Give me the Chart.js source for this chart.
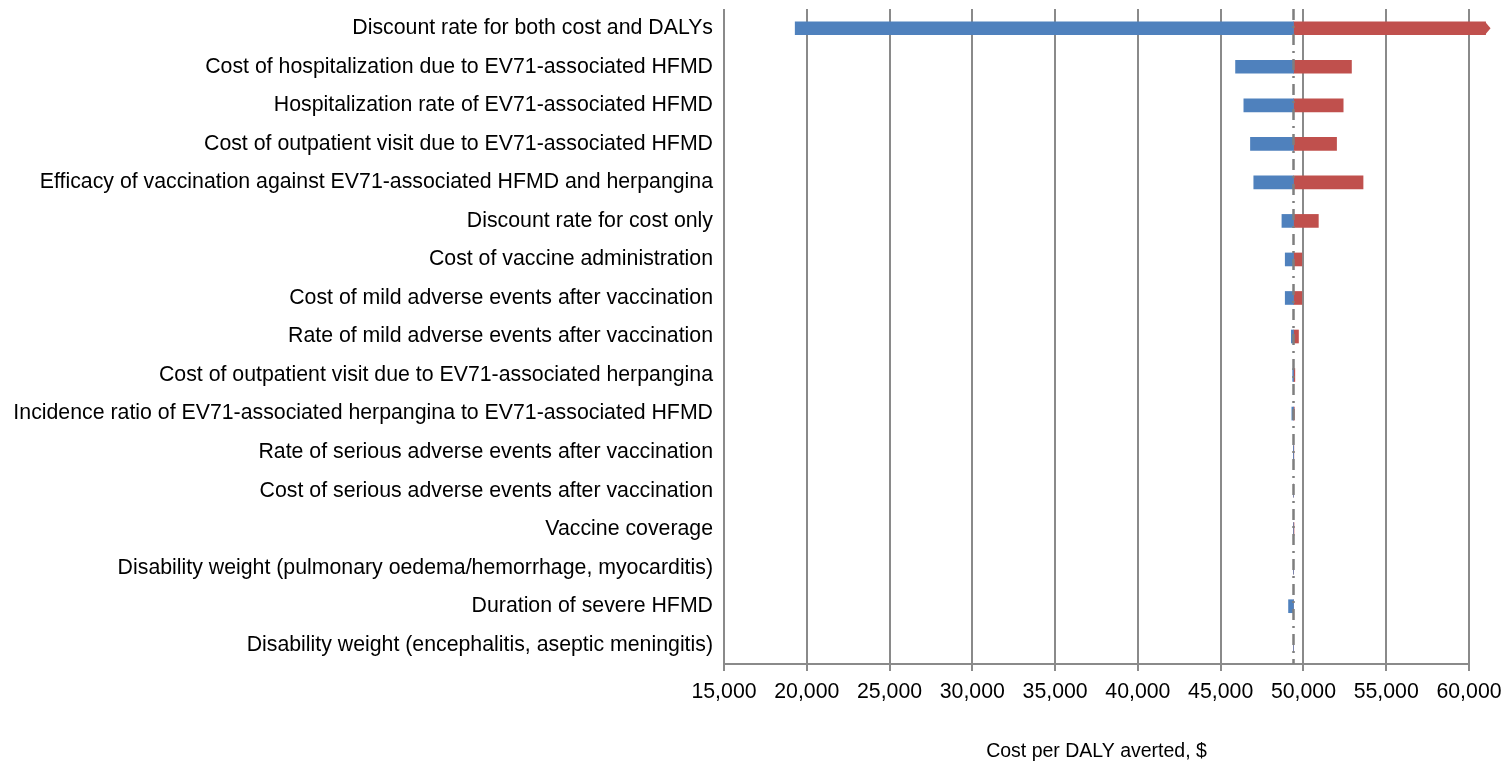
<!DOCTYPE html>
<html>
<head>
<meta charset="utf-8">
<script src="https://cdn.jsdelivr.net/npm/chart.js@4.4.0/dist/chart.umd.min.js"></script>
<style>
  html, body { margin: 0; padding: 0; background: #fff; }
  #wrap { width: 1503px; height: 763px; }
</style>
</head>
<body>
<div id="wrap"><canvas id="tornadoChart" width="1503" height="763"></canvas></div>
<script>
// One-way sensitivity analysis (tornado)
const categories = [
    'Discount rate for both cost and DALYs',
    'Cost of hospitalization due to EV71-associated HFMD',
    'Hospitalization rate of EV71-associated HFMD',
    'Cost of outpatient visit due to EV71-associated HFMD',
    'Efficacy of vaccination against EV71-associated HFMD and herpangina',
    'Discount rate for cost only',
    'Cost of vaccine administration',
    'Cost of mild adverse events after vaccination',
    'Rate of mild adverse events after vaccination',
    'Cost of outpatient visit due to EV71-associated herpangina',
    'Incidence ratio of EV71-associated herpangina to EV71-associated HFMD',
    'Rate of serious adverse events after vaccination',
    'Cost of serious adverse events after vaccination',
    'Vaccine coverage',
    'Disability weight (pulmonary oedema/hemorrhage, myocarditis)',
    'Duration of severe HFMD',
    'Disability weight (encephalitis, aseptic meningitis)'
];
const baseValue = 49400;
const lowValues = [19300, 45900, 46400, 46800, 47000, 48700, 48900, 48900, 49270, 49350, 49300, 49390, 49400, 49400, 49400, 49100, 49400];
const highValues = [61000, 52900, 52400, 52000, 53600, 50900, 49900, 49900, 49700, 49480, 49450, 49420, 49400, 49430, 49400, 49400, 49400];
const xTicks = [15000, 20000, 25000, 30000, 35000, 40000, 45000, 50000, 55000, 60000];

const blueColor = '#4f81bd';
const redColor = '#c0504d';
const gridColor = '#8a8a8a';
const fontSpec = { family: 'Liberation Sans, Arial', size: 21.3 };

// dash-dot line at the base case value + arrow on the first red bar
const extrasPlugin = {
    id: 'extras',
    afterDatasetsDraw(chart) {
        const ctx = chart.ctx;
        const area = chart.chartArea;
        const xs = chart.scales.x;
        const bx = xs.getPixelForValue(baseValue);
        ctx.save();
        ctx.strokeStyle = '#7f7f7f';
        ctx.lineWidth = 2.5;
        ctx.setLineDash([11, 6, 2, 6]);
        ctx.beginPath();
        ctx.moveTo(bx, area.top);
        ctx.lineTo(bx, area.bottom);
        ctx.stroke();
        ctx.setLineDash([]);

        const bar = chart.getDatasetMeta(1).data[0];
        const half = bar.height / 2;
        const ex = xs.getPixelForValue(highValues[0]);
        ctx.fillStyle = redColor;
        ctx.beginPath();
        ctx.moveTo(ex - 0.5, bar.y - half);
        ctx.lineTo(ex + 5, bar.y);
        ctx.lineTo(ex - 0.5, bar.y + half);
        ctx.closePath();
        ctx.fill();
        ctx.restore();
    }
};

const ctx = document.getElementById('tornadoChart').getContext('2d');
new Chart(ctx, {
    type: 'bar',
    data: {
        labels: categories,
        datasets: [{
            label: 'Low',
            data: lowValues.map(v => [v, baseValue]),
            backgroundColor: blueColor,
            barThickness: 13,
            grouped: false,
            borderSkipped: false,
            borderWidth: 0
        }, {
            label: 'High',
            data: highValues.map(v => [baseValue, v]),
            backgroundColor: redColor,
            barThickness: 13,
            grouped: false,
            borderSkipped: false,
            borderWidth: 0,
            clip: false
        }]
    },
    options: {
        indexAxis: 'y',
        responsive: false,
        animation: false,
        layout: { padding: { top: 9, right: 34, left: 0, bottom: 0 } },
        plugins: {
            legend: { display: false },
            tooltip: { enabled: false }
        },
        scales: {
            x: {
                min: 15000,
                max: 60000,
                afterBuildTicks: scale => {
                    scale.ticks = xTicks.map(v => ({ value: v }));
                },
                afterFit: scale => {
                    scale.height = 99;
                    scale.paddingRight = 0;
                },
                grid: {
                    color: gridColor,
                    lineWidth: 2,
                    drawTicks: true,
                    tickLength: 7
                },
                border: { color: gridColor, width: 2 },
                ticks: {
                    color: '#000',
                    font: fontSpec,
                    padding: 8,
                    maxRotation: 0,
                    callback: v => v.toLocaleString('en-US')
                },
                title: {
                    display: true,
                    text: 'Cost per DALY averted, $',
                    color: '#000',
                    font: { family: 'Liberation Sans, Arial', size: 19.5 },
                    padding: { top: 10, bottom: 0 }
                }
            },
            y: {
                afterFit: scale => {
                    scale.width = 724;
                    scale.paddingTop = 0;
                    scale.paddingBottom = 0;
                },
                grid: { display: false, drawTicks: false },
                border: { display: false },
                ticks: {
                    color: '#000',
                    font: fontSpec,
                    padding: 11,
                    autoSkip: false
                }
            }
        }
    },
    plugins: [extrasPlugin]
});
</script>
</body>
</html>
